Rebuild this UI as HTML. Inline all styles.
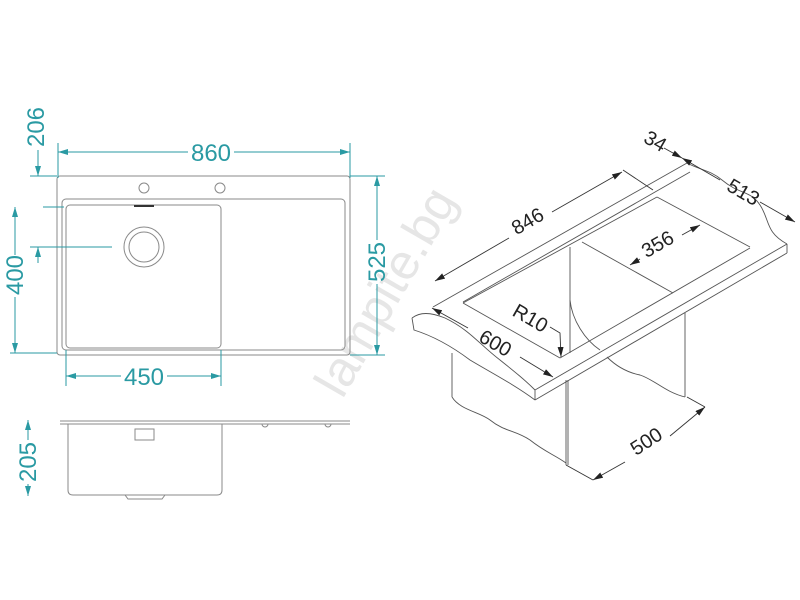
<!DOCTYPE html>
<html><head><meta charset="utf-8"><style>
html,body{margin:0;padding:0;background:#fff;}
svg{display:block;}
</style></head><body>
<svg width="800" height="600" viewBox="0 0 800 600" xmlns="http://www.w3.org/2000/svg">
<defs>
<marker id="ta" viewBox="0 0 10 6" refX="10" refY="3" markerWidth="10" markerHeight="6" orient="auto-start-reverse" markerUnits="userSpaceOnUse"><path d="M0,0 L10,3 L0,6 z" fill="#2a9aa3"/></marker>
<marker id="ba" viewBox="0 0 10 6" refX="10" refY="3" markerWidth="10" markerHeight="6" orient="auto-start-reverse" markerUnits="userSpaceOnUse"><path d="M0,0 L10,3 L0,6 z" fill="#222"/></marker>
</defs>

<text x="400" y="300" transform="rotate(-60 400 300)" text-anchor="middle" font-family="Liberation Sans, sans-serif" font-size="50" fill="#e6e6e6">lampite.bg</text>

<g fill="none" stroke="#8a8a8a" stroke-width="1">
<rect x="57" y="176" width="293" height="179" rx="3"/>
<rect x="62" y="199" width="283" height="151" rx="4"/>
<rect x="66" y="205" width="155" height="143" rx="4"/>
<circle cx="144" cy="247" r="20"/>
<circle cx="144" cy="247" r="15"/>
<circle cx="144" cy="188" r="5"/>
<circle cx="220" cy="188" r="5"/>
</g>
<line x1="134" y1="206" x2="154" y2="206" stroke="#333" stroke-width="2"/>

<g stroke="#2a9aa3" stroke-width="1" fill="none">
<line x1="58" y1="143" x2="58" y2="178"/><line x1="350" y1="143" x2="350" y2="178"/>
<line x1="58" y1="152" x2="188" y2="152" marker-start="url(#ta)"/>
<line x1="234" y1="152" x2="350" y2="152" marker-end="url(#ta)"/>
<line x1="30" y1="176" x2="57" y2="176"/>
<line x1="43" y1="207" x2="64" y2="207"/>
<line x1="30" y1="247" x2="112" y2="247"/>
<line x1="10" y1="353" x2="57" y2="353"/>
<line x1="38" y1="150" x2="38" y2="176" marker-end="url(#ta)"/>
<line x1="38" y1="263" x2="38" y2="247" marker-end="url(#ta)"/>
<line x1="15" y1="207" x2="15" y2="255" marker-start="url(#ta)"/>
<line x1="15" y1="297" x2="15" y2="353" marker-end="url(#ta)"/>
<line x1="350" y1="176" x2="385" y2="176"/><line x1="350" y1="355" x2="385" y2="355"/>
<line x1="377" y1="176" x2="377" y2="240" marker-start="url(#ta)"/>
<line x1="377" y1="284" x2="377" y2="355" marker-end="url(#ta)"/>
<line x1="66" y1="350" x2="66" y2="386"/><line x1="221" y1="350" x2="221" y2="386"/>
<line x1="66" y1="376" x2="121" y2="376" marker-start="url(#ta)"/>
<line x1="167" y1="376" x2="221" y2="376" marker-end="url(#ta)"/>
<line x1="28" y1="420" x2="28" y2="440" marker-start="url(#ta)"/>
<line x1="28" y1="484" x2="28" y2="496" marker-end="url(#ta)"/>
</g>
<g font-family="Liberation Sans, sans-serif" font-size="24" fill="#2a9aa3" text-anchor="middle">
<text x="211" y="161">860</text>
<text x="144" y="385">450</text>
<text transform="translate(44 127) rotate(-90)">206</text>
<text transform="translate(23 275) rotate(-90)">400</text>
<text transform="translate(385 262) rotate(-90)">525</text>
<text transform="translate(36 462) rotate(-90)">205</text>
</g>

<g fill="none" stroke="#8a8a8a" stroke-width="1">
<line x1="60" y1="421" x2="350" y2="421"/>
<line x1="60" y1="424" x2="350" y2="424"/>
<path d="M68,424 L68,490 Q68,495 73,495 L217,495 Q222,495 222,490 L222,424"/>
<path d="M125,495 L128,499 L162,499 L165,495"/>
<rect x="135" y="429" width="19" height="11"/>
<path d="M262,424 A3,3 0 0 0 268,424"/>
<path d="M325,424 A3,3 0 0 0 331,424"/>
</g>

<g fill="none" stroke="#555" stroke-width="0.9">
<path d="M412,318 C420,312 430,312 445,318 C470,330 480,345 500,360 C515,372 525,380 535,390"/>
<path d="M412,318 L414,330 C430,335 450,345 470,360 C490,372 515,385 535,400"/>
<line x1="535" y1="390" x2="787" y2="244"/>
<line x1="535" y1="400" x2="787" y2="253"/>
<line x1="535" y1="390" x2="535" y2="400"/>
<line x1="787" y1="244" x2="787" y2="253"/>
<path d="M687,163 C700,170 710,170 722,180 C740,195 750,190 760,205 C770,220 765,232 787,244"/>
<line x1="433" y1="307" x2="687" y2="163"/>
<line x1="463" y1="302" x2="690" y2="172"/>
<line x1="463" y1="303" x2="657" y2="197"/>
<line x1="657" y1="197" x2="750" y2="247"/>
<line x1="463" y1="303" x2="560" y2="358"/>
<line x1="560" y1="358" x2="750" y2="248"/>
<line x1="582" y1="242" x2="673" y2="293"/>
<line x1="570" y1="247" x2="570" y2="353"/>
<line x1="452" y1="353" x2="452" y2="397"/>
<path d="M452,397 C460,410 480,412 490,420 C505,432 515,430 530,440 C545,452 555,455 566,463"/>
<line x1="566" y1="380" x2="566" y2="465"/>
<line x1="568" y1="380" x2="568" y2="465"/>
<line x1="685" y1="313" x2="685" y2="397"/>
<path d="M607,357 C615,365 625,372 640,375 C655,380 665,392 685,397"/>
<path d="M570,300 C572,320 585,340 600,350"/>
</g>
<g stroke="#333" stroke-width="0.9" fill="none">
<line x1="435" y1="281" x2="509" y2="238" marker-start="url(#ba)"/>
<line x1="552" y1="212" x2="622" y2="172" marker-end="url(#ba)"/>
<line x1="623" y1="170" x2="653" y2="190"/>
<line x1="432" y1="308" x2="468" y2="328" marker-start="url(#ba)"/>
<line x1="520" y1="357" x2="553" y2="377" marker-end="url(#ba)"/>
<line x1="630" y1="265" x2="640" y2="259" marker-start="url(#ba)"/>
<line x1="682" y1="235" x2="700" y2="225" marker-end="url(#ba)"/>
<line x1="664" y1="148" x2="682" y2="158" marker-end="url(#ba)"/>
<line x1="682" y1="158" x2="720" y2="180" marker-start="url(#ba)"/>
<line x1="760" y1="202" x2="795" y2="222" marker-end="url(#ba)"/>
<path d="M550,327 L560,333 L561,357" marker-end="url(#ba)"/>
<line x1="566" y1="465" x2="593" y2="480"/>
<line x1="687" y1="397" x2="705" y2="407"/>
<line x1="593" y1="480" x2="625" y2="462" marker-start="url(#ba)"/>
<line x1="670" y1="436" x2="705" y2="407" marker-end="url(#ba)"/>
</g>
<g font-family="Liberation Sans, sans-serif" font-size="20" fill="#222" text-anchor="middle">
<text transform="translate(531 227) rotate(-30)">846</text>
<text transform="translate(661 250) rotate(-30)">356</text>
<text transform="translate(652 147) rotate(30)">34</text>
<text transform="translate(740 198) rotate(30)">513</text>
<text transform="translate(527 324) rotate(30)">R10</text>
<text transform="translate(492 349) rotate(30)">600</text>
<text transform="translate(650 447) rotate(-33)">500</text>
</g>
</svg>
</body></html>
